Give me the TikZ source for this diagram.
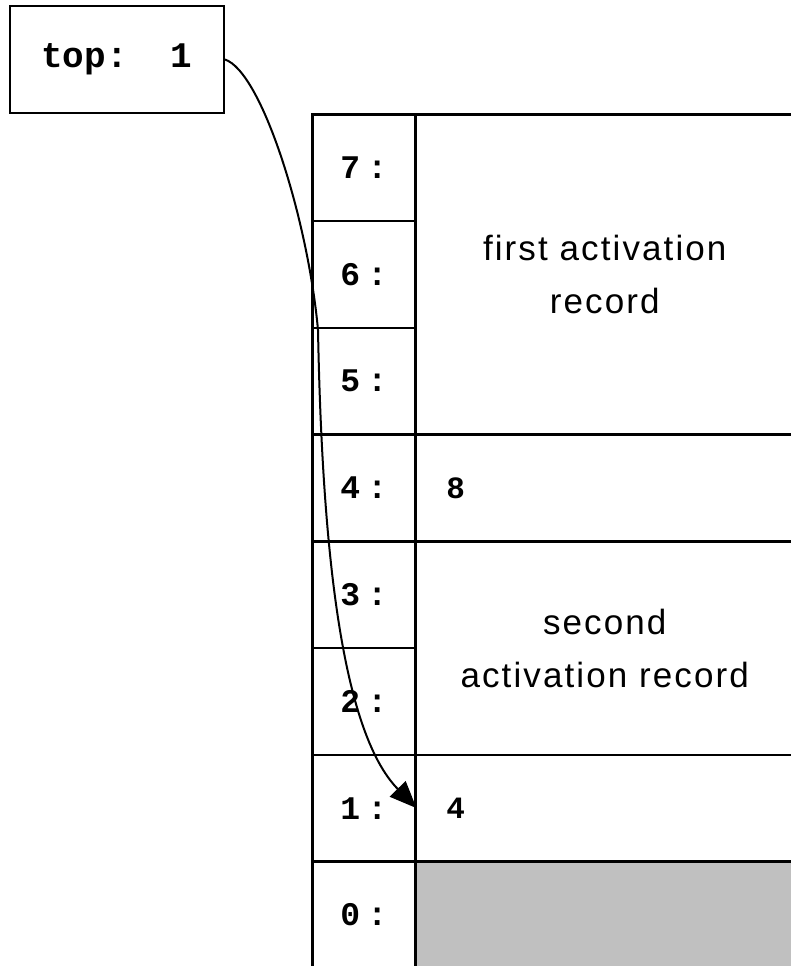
\documentclass[tikz,border=0pt]{standalone}
\usepackage{fontspec}
\setmonofont{Liberation Mono}
\newfontfamily\idxfont[LetterSpace=22]{Liberation Mono}
\newfontfamily\recfont[LetterSpace=6]{Liberation Sans}
\usetikzlibrary{arrows.meta}
\definecolor{freegray}{RGB}{192,192,192}
\newcommand{\rowh}{106.75}
\tikzstyle{cell}=[draw, line width=2.5pt, rectangle, inner sep=0pt, anchor=north west]
\tikzstyle{idxcell}=[cell, minimum width=103pt, minimum height=\rowh pt, font=\idxfont\bfseries\fontsize{33}{33}\selectfont]
\tikzstyle{valcell}=[cell, minimum width=379pt, minimum height=\rowh pt, inner xsep=31pt, text width=317pt, align=left, font=\ttfamily\bfseries\fontsize{31}{31}\selectfont]
\tikzstyle{reccell}=[cell, minimum width=379pt, align=center, font=\recfont\fontsize{35}{53}\selectfont]

\begin{document}
\begin{tikzpicture}[x=1pt, y=-1pt]
        \useasboundingbox (0,0) rectangle (790,966);

        % top pointer
        \node[draw, line width=2pt, minimum width=214pt, minimum height=107pt, font=\ttfamily\bfseries\fontsize{36}{36}\selectfont] (top) at (117,59.5) {top:~~1};

        % index column
        \foreach \i in {0,...,7} {
            \pgfmathsetmacro\posY{113 + (7-\i)*\rowh}
            \node[idxcell] (idx\i) at (311, \posY) {\i:};
        }

        % contents column
        \node[reccell, minimum height=320.25pt] (rec1) at (414,113) {first activation\\record};
        \node[valcell] (val4) at (414,433.25) {8};
        \node[reccell, minimum height=213.5pt] (rec2) at (414,540) {second\\activation record};
        \node[valcell] (val1) at (414,753.5) {4};
        \node[cell, fill=freegray, minimum width=379pt, minimum height=\rowh pt] (free0) at (414,860.25) {};

        % pointer to top of stack
        \coordinate (bend) at (318,330);
        \draw[line width=2pt, -{Triangle[length=27pt, width=22pt]}] (top.east) .. controls (262,72) and (308,220) .. (bend)
            .. controls (322,540) and (340,730) .. (idx1.east);
\end{tikzpicture}
\end{document}
